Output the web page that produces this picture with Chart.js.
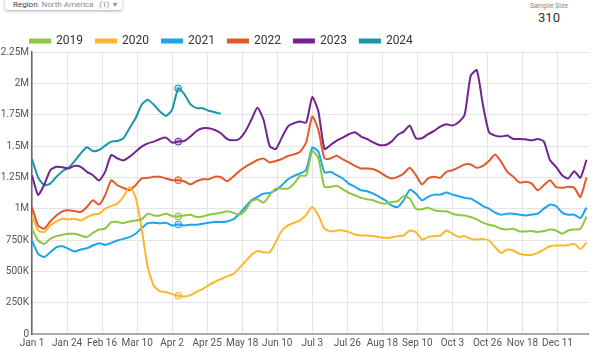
<!DOCTYPE html>
<html>
<head>
<meta charset="utf-8">
<script src="https://cdn.jsdelivr.net/npm/chart.js@4.4.1/dist/chart.umd.min.js"></script>
<style>
  html, body { margin: 0; padding: 0; background: #fff; width: 600px; height: 348px; overflow: hidden; font-family: Roboto, "Noto Sans", sans-serif; }
  #region { position: absolute; left: 5px; top: -12px; width: 117px; height: 22px; background: #fff; border-radius: 2px;
            box-shadow: 0 1px 3px rgba(0,0,0,0.35); font-size: 8px; color: #888; box-sizing: border-box; padding: 12px 0 0 8px; white-space: nowrap; line-height: 9px; }
  #region span { color: #444; }
  #sample { position: absolute; left: 519px; top: 2px; width: 60px; text-align: center; }
  #sample .lbl { font-size: 7px; color: #888; line-height: 8px; }
  #sample .val { font-size: 13px; color: #333; line-height: 15px; }
  #wrap { position: absolute; left: 0; top: 22px; width: 600px; height: 326px; }
</style>
</head>
<body>
<div id="region"><span>Region</span>: North America &nbsp;&nbsp;(1) &nbsp;▾</div>
<div id="sample"><div class="lbl">Sample Size</div><div class="val">310</div></div>
<div id="wrap"><canvas id="c"></canvas></div>
<script>
// Day of year (leap-year basis), sampled every 4 days
const days = [0,4,8,12,16,20,24,28,32,36,40,44,48,52,56,60,64,68,72,76,80,84,88,92,
  96,100,104,108,112,116,120,124,128,132,136,140,144,148,152,156,160,164,168,172,176,180,184,188,
  192,196,200,204,208,212,216,220,224,228,232,236,240,244,248,252,256,260,264,268,272,276,280,
  284,288,292,296,300,304,308,312,316,320,324,328,332,336,340,344,348,352,356,360,364];

// Values in thousands
const y2019 = [840,746,719,759,781,791,799,799,786,773,807,834,840,893,893,885,898,906,914,960,946,946,960,941,
  938,946,952,933,938,952,960,968,979,968,952,987,1059,1075,1048,1107,1160,1160,1160,1200,1262,1267,1460,1401,
  1174,1174,1182,1155,1126,1107,1086,1075,1067,1048,1040,1053,1059,1100,1080,1000,995,1008,987,979,979,960,950,
  946,933,914,888,872,861,840,834,840,818,818,821,813,821,834,826,799,826,834,840,935];

const y2020 = [946,826,813,866,898,920,914,920,906,933,952,960,1000,1021,1040,1094,1170,1090,840,530,385,340,335,318,
  305,299,310,337,358,390,417,438,460,478,524,578,631,663,652,652,733,826,866,888,906,952,1013,946,
  840,818,826,826,813,794,786,786,781,773,767,770,781,786,826,813,754,773,781,786,826,799,775,
  781,759,754,759,746,692,647,674,666,639,631,631,647,674,700,706,706,711,719,679,730];

const y2021 = [746,640,615,652,692,700,679,658,674,684,706,725,711,727,746,759,773,800,845,885,888,882,888,866,
  874,866,872,872,880,888,893,893,898,914,958,1013,1067,1094,1120,1126,1147,1187,1235,1262,1281,1310,1487,1454,
  1289,1294,1267,1241,1200,1174,1147,1139,1120,1094,1067,1027,1013,1067,1150,1120,1067,1094,1112,1112,1128,1112,1100,
  1086,1080,1053,1021,1000,968,952,960,960,952,946,952,960,1000,1032,1021,968,952,952,925,1010];

const y2022 = [1013,866,840,898,946,979,987,981,973,1013,1067,1032,1107,1227,1187,1166,1147,1187,1241,1246,1254,1254,1241,1227,
  1227,1219,1193,1219,1235,1235,1254,1251,1219,1254,1299,1334,1361,1388,1401,1369,1380,1396,1420,1433,1454,1530,1735,1628,
  1401,1401,1422,1393,1369,1342,1321,1321,1315,1294,1262,1241,1254,1281,1326,1267,1193,1241,1254,1246,1294,1307,1330,
  1353,1353,1326,1342,1380,1433,1374,1294,1254,1209,1214,1200,1147,1187,1227,1174,1166,1174,1166,1094,1250];

const y2023 = [1267,1110,1190,1307,1334,1331,1321,1342,1334,1294,1267,1225,1294,1428,1401,1385,1414,1454,1495,1521,1535,1556,1567,1527,
  1535,1540,1575,1620,1642,1642,1628,1602,1556,1545,1556,1615,1709,1805,1709,1500,1475,1567,1655,1682,1695,1687,1890,1775,
  1476,1508,1543,1567,1594,1610,1575,1556,1529,1508,1508,1535,1588,1615,1663,1562,1562,1594,1620,1655,1674,1663,1690,
  1749,2060,2105,1829,1610,1583,1575,1583,1556,1556,1553,1545,1556,1535,1388,1334,1267,1241,1299,1246,1390];

const y2024 = [1396,1250,1187,1200,1254,1299,1326,1380,1441,1490,1460,1468,1503,1535,1540,1562,1642,1722,1829,1869,1829,1775,1740,1790,
  1960,1914,1834,1802,1802,1781,1770,1757];

const seriesNames = ["2019","2020","2021","2022","2023","2024"];
const seriesColors = ["#8DC63F","#FDB72A","#1DA4EC","#E4582B","#73238F","#1895A9"];
const seriesValues = [y2019,y2020,y2021,y2022,y2023,y2024];

const tickDays = [0,23,46,69,92,115,138,161,184,207,230,253,276,299,322,345];
const tickLabels = ["Jan 1","Jan 24","Feb 16","Mar 10","Apr 2","Apr 25","May 18","Jun 10","Jul 3","Jul 26","Aug 18","Sep 10","Oct 3","Oct 26","Nov 18","Dec 11"];
const yTicks = [0,250,500,750,1000,1250,1500,1750,2000,2250];
const yTickLabels = ["0","250K","500K","750K","1M","1.25M","1.5M","1.75M","2M","2.25M"];
const hoverIndex = 24;

const datasets = seriesNames.map((name, i) => ({
  label: name,
  data: seriesValues[i].map((v, j) => ({ x: days[j], y: v })),
  borderColor: seriesColors[i],
  backgroundColor: seriesColors[i],
  borderWidth: 2,
  tension: 0.2,
  pointRadius: ctx => ctx.dataIndex === hoverIndex ? 3.5 : 0,
  pointBackgroundColor: seriesColors[i] + "55",
  pointBorderColor: seriesColors[i],
  pointBorderWidth: 1,
  fill: false
}));

const legendTweak = {
  id: 'legendTweak',
  beforeLayout(chart) {
    const lg = chart.legend;
    if (lg && !lg._patched) {
      const orig = lg.fit.bind(lg);
      lg.fit = function () { orig(); this.height -= 5; };
      lg._patched = true;
    }
  },
  afterLayout(chart) {
    if (chart.legend) chart.legend.left += 17;
  }
};

new Chart(document.getElementById('c'), {
  type: 'line',
  data: { datasets },
  plugins: [legendTweak],
  options: {
    responsive: true,
    maintainAspectRatio: false,
    animation: false,
    layout: { padding: { left: 0, right: 12, top: 0, bottom: 0 } },
    plugins: {
      legend: {
        position: 'top',
        align: 'start',
        labels: {
          boxWidth: 20,
          boxHeight: 3,
          padding: 13,
          color: '#333',
          font: { family: 'Roboto', size: 12 }
        }
      },
      tooltip: { enabled: false }
    },
    scales: {
      x: {
        type: 'linear',
        min: 0,
        max: 365,
        afterBuildTicks: s => { s.ticks = tickDays.map(v => ({ value: v })); },
        afterFit: s => { s.height = 14; },
        ticks: {
          autoSkip: false,
          maxRotation: 0,
          padding: 3,
          color: '#555',
          font: { family: 'Roboto', size: 10 },
          callback: v => tickLabels[tickDays.indexOf(v)]
        },
        grid: { color: '#e4e4e4', lineWidth: 1, drawTicks: false },
        border: { color: '#aaa', width: 2 }
      },
      y: {
        min: 0,
        max: 2250,
        afterBuildTicks: s => { s.ticks = yTicks.map(v => ({ value: v })); },
        afterFit: s => { s.width = 32; },
        ticks: {
          padding: 3,
          color: '#555',
          font: { family: 'Roboto', size: 10 },
          callback: v => yTickLabels[yTicks.indexOf(v)]
        },
        grid: { color: '#e4e4e4', lineWidth: 1, drawTicks: false },
        border: { color: '#666', width: 1.5 }
      }
    }
  }
});
</script>
</body>
</html>
